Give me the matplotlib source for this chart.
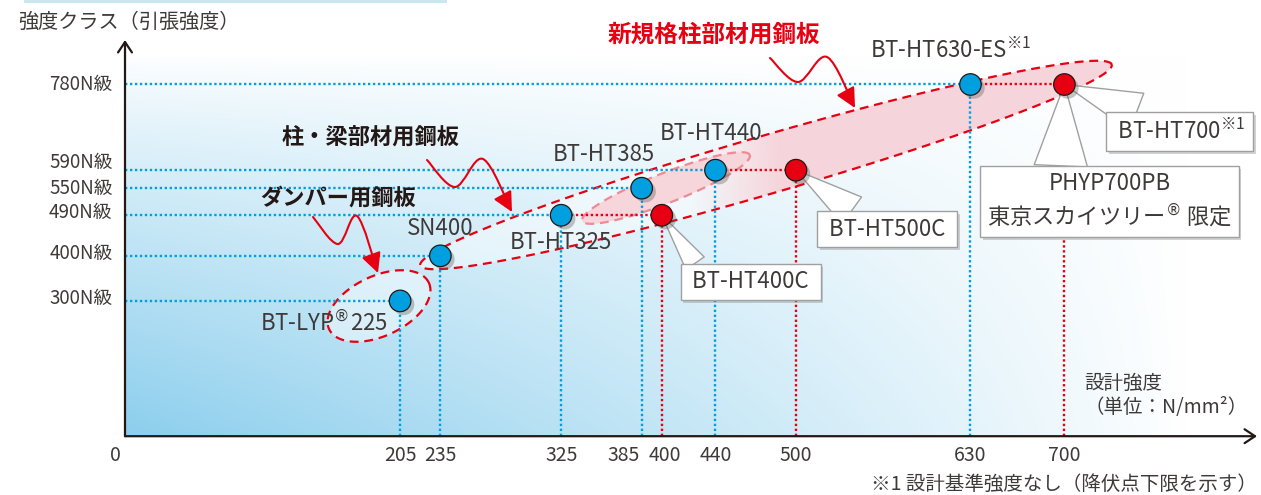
import numpy as np
import matplotlib
matplotlib.use("Agg")
import matplotlib.pyplot as plt
import matplotlib.patheffects as pe
from matplotlib.patches import Polygon, FancyArrowPatch
from matplotlib.path import Path

plt.rcParams['font.family'] = ['Noto Sans CJK JP', 'DejaVu Sans']
plt.rcParams['mathtext.fontset'] = 'custom'
plt.rcParams['mathtext.rm'] = 'Noto Sans CJK JP'
plt.rcParams['mathtext.it'] = 'Noto Sans CJK JP'
plt.rcParams['mathtext.bf'] = 'Noto Sans CJK JP:bold'
plt.rcParams['mathtext.sf'] = 'DejaVu Sans'

# ── data ───────────────────────────────────────────────────────────────────────
blue_names  = ['BT-LYP$^{\\mathsf{®}}$225', 'SN400', 'BT-HT325', 'BT-HT385',
               'BT-HT440', 'BT-HT630-ES$^{\\mathrm{※1}}$']
blue_design = [205, 235, 325, 385, 440, 630]
blue_class  = [300, 400, 490, 550, 590, 780]

red_names   = [' BT-HT400C ', ' BT-HT500C ', ' BT-HT700$^{\\mathrm{※1}}$ ']
red_design  = [400, 500, 700]
red_class   = [490, 590, 780]

x_ticks = [0, 205, 235, 325, 385, 400, 440, 500, 630, 700]
y_ticks = [300, 400, 490, 550, 590, 780]
y_tick_labels = [f'{v}N級' for v in y_ticks]

# ── style ──────────────────────────────────────────────────────────────────────
BLUE = '#00a0e0'
RED = '#e60012'
TXT = '#3e3a39'
AXC = '#231815'
PINK = (0.965, 0.835, 0.86)

# pixel <-> data mapping of the original layout
X0, SX = 125.0, 1.342
Y0, SY = 436.2, 0.4509


def D(px, py):
    return (px - X0) / SX, (Y0 - py) / SY


fig = plt.figure(figsize=(12.61, 4.95), dpi=100)
ax = fig.add_axes([0, 0, 1, 1])
ax.set_xlim(D(0, 0)[0], D(1261, 0)[0])
ax.set_ylim(D(0, 495)[1], D(0, 0)[1])
ax.axis('off')

fig.add_artist(plt.Line2D([25 / 1261, 445 / 1261], [1 - 1.2 / 495] * 2,
                          transform=fig.transFigure, color='#c4e6ec', lw=2))

# ── background gradient ───────────────────────────────────────────────────────
xr, yt = D(1261, 0)[0], D(0, 0)[1]
gx = np.linspace(X0, 1261, 400)
gy = np.linspace(Y0, 0, 200)
PX, PY = np.meshgrid(gx, gy)
sy = np.clip((PY - 55) / (Y0 - 55), 0, 1) ** 0.85
sx = np.clip(1 - (PX - X0) / 1060, 0, 1) ** 0.9
t = (sy * sx)[..., None]
C = np.array([0.55, 0.81, 0.93])
img = 1 - t * (1 - C)
ax.imshow(img, extent=[0, xr, 0, yt], origin='lower', aspect='auto',
          interpolation='bilinear', zorder=0)


# ── ellipses ─────────────────────────────────────────────────────────────────
def ellipse_pts(cx, cy, a, b, ang):
    tt = np.linspace(0, 2 * np.pi, 300)
    th = np.deg2rad(ang)
    ex = cx + a * np.cos(tt) * np.cos(th) - b * np.sin(tt) * np.sin(th)
    ey = cy - (a * np.cos(tt) * np.sin(th) + b * np.sin(tt) * np.cos(th))
    return np.column_stack(D(ex, ey))


dash = dict(ls=(0, (4, 2.6)), lw=1.6)

# damper group
lyp = Polygon(ellipse_pts(379, 306, 55, 30, 25), closed=True, fc=(1, 1, 1, 0.45),
              ec=RED, zorder=1.5, **dash)
ax.add_patch(lyp)

# column / beam group + new standard group
big_pts = ellipse_pts(766, 165, 360, 29, 16.2)
big_fill = Polygon(big_pts, closed=True, fc=(1, 1, 1, 0.45), ec='none', zorder=1.2)
ax.add_patch(big_fill)
bx0, by0 = D(640, 0)[0], D(0, 240)[1]
bx1, by1 = D(1130, 0)[0], D(0, 50)[1]
ramp = np.clip((np.linspace(640, 1130, 400) - 690) / 90, 0, 1)
pimg = np.zeros((2, 400, 4))
pimg[..., :3] = PINK
pimg[..., 3] = ramp
im = ax.imshow(pimg, extent=[bx0, bx1, by0, by1], aspect='auto', zorder=1.3,
               interpolation='bilinear')
im.set_clip_path(big_fill)
inner = Polygon(ellipse_pts(666, 188, 90, 15, 21.5), closed=True, fc=PINK,
                ec='#ee8a94', zorder=1.35, **dash)
ax.add_patch(inner)
ax.add_patch(Polygon(big_pts, closed=True, fc='none', ec=RED, zorder=1.6, **dash))

# ── dotted guide lines ─────────────────────────────────────────────────────────
dot = dict(ls=(0, (1, 1.1)), lw=1.7, zorder=2)
for x, y in zip(blue_design, blue_class):
    ax.plot([0, x], [y, y], color=BLUE, **dot)
    ax.plot([x, x], [0, y], color=BLUE, **dot)
for x, y in zip(red_design, red_class):
    x0 = max(bx for bx, by in zip(blue_design, blue_class) if by == y)
    ax.plot([x0, x], [y, y], color=RED, **dot)
    ax.plot([x, x], [0, y], color=RED, **dot)

# ── axes with arrows ───────────────────────────────────────────────────────────
arr = dict(arrowstyle='->,head_length=0.75,head_width=0.5', color=AXC, lw=1.6,
           shrinkA=0, shrinkB=0)
ax.annotate('', xy=(0, D(0, 40)[1]), xytext=(0, 0), arrowprops=arr, zorder=3)
ax.annotate('', xy=(D(1257, 0)[0], 0), xytext=(0, 0), arrowprops=arr, zorder=3)

x_nudge = {0: -7, 385: -13, 400: 2}
for v in x_ticks:
    ax.annotate(str(v), (v, 0), xytext=(x_nudge.get(v, 0), -14), textcoords='offset points',
                ha='center', va='center', fontsize=14, color=TXT)
y_nudge = {300: 2, 400: 2, 490: 2, 550: 0, 590: 5.5, 780: 0}
for v, lab in zip(y_ticks, y_tick_labels):
    ax.annotate(lab, (0, v), xytext=(-9, y_nudge[v]), textcoords='offset points',
                ha='right', va='center', fontsize=13.5, color=TXT)

ax.text(*D(18, 22), '強度クラス（引張強度）', ha='left', va='center', fontsize=14.5, color=TXT)
ax.text(*D(1084, 383), '設計強度', ha='left', va='center', fontsize=14, color=TXT)
ax.text(*D(1084, 408), '（単位：N/mm²）', ha='left', va='center', fontsize=14, color=TXT)
ax.text(*D(1257, 484), '※1 設計基準強度なし（降伏点下限を示す）', ha='right', va='center',
        fontsize=14, color=TXT)

# ── points ─────────────────────────────────────────────────────────────────
shadow = [pe.SimplePatchShadow(offset=(2.5, -2.5), shadow_rgbFace='0.35', alpha=0.35),
          pe.Normal()]
ax.plot(blue_design, blue_class, 'o', ms=15.5, mfc=BLUE, mec=AXC, mew=0.9, zorder=6,
        path_effects=shadow)
ax.plot(red_design, red_class, 'o', ms=15.5, mfc=RED, mec=AXC, mew=0.9, zorder=6,
        path_effects=shadow)

# blue labels
label_off = [(-55, -15), (0, 19.5), (0, -19.5), (-27, 24.5), (-3, 26.5), (-14, 24.5)]
for name, x, y, off in zip(blue_names, blue_design, blue_class, label_off):
    ax.annotate(name, (x, y), xytext=off, textcoords='offset points', ha='center',
                va='center', fontsize=16, color=TXT, zorder=7)


# callouts for red points
def callout(text, xy, off, relpos, tail, pad=0.3, ls=1.2):
    ann = ax.annotate(text, xy=xy, xytext=off, textcoords='offset points',
                      ha='center', va='center', fontsize=16, color=TXT, zorder=4,
                      linespacing=ls,
                      bbox=dict(boxstyle=f'square,pad={pad}', fc='white', ec='#a0a0a0', lw=1),
                      arrowprops=dict(arrowstyle=f'wedge,tail_width={tail},shrink_factor=0.5',
                                      fc='white', ec='#a0a0a0', lw=1, relpos=relpos,
                                      shrinkA=0, shrinkB=0))
    ann.get_bbox_patch().set_path_effects(
        [pe.SimplePatchShadow(offset=(2, -2), shadow_rgbFace='0.5', alpha=0.35), pe.Normal()])
    return ann


call_off = [(64, -48), (65.5, -42.5), (83, -34)]
call_rel = [(0.1, 1), (0.3, 1), (0.32, 1)]
call_tail = [1.0, 1.5, 1.8]
for name, x, y, off, rp, tw in zip(red_names, red_design, red_class, call_off, call_rel, call_tail):
    callout(name, (x, y), off, rp, tw)
callout('PHYP700PB\n東京スカイツリー$^{\\mathsf{®}}$ 限定', (red_design[2], red_class[2]),
        (32.5, -84), (0.3, 1), 2.4, pad=0.3, ls=1.3)


# ── wavy red arrows + group titles ─────────────────────────────────────────────
def wave_arrow(pts_px):
    P = np.array([D(*p) for p in pts_px])
    Q = np.vstack([P[0], P, P[-1]])
    verts, codes = [P[0]], [Path.MOVETO]
    for i in range(1, len(Q) - 2):
        c1 = Q[i] + (Q[i + 1] - Q[i - 1]) / 6
        c2 = Q[i + 1] - (Q[i + 2] - Q[i]) / 6
        verts += [c1, c2, Q[i + 1]]
        codes += [Path.CURVE4] * 3
    ax.add_patch(FancyArrowPatch(path=Path(verts, codes),
                                 arrowstyle='-|>,head_length=0.6,head_width=0.3',
                                 mutation_scale=20, color=RED, lw=1.5, zorder=5))


wave_arrow([(770, 58), (798, 82), (827, 57), (855, 108)])
wave_arrow([(427, 160), (455, 187), (483, 159), (512, 212)])
wave_arrow([(313, 217), (338, 244), (357, 216), (378, 273)])

ax.text(*D(714, 35), '新規格柱部材用鋼板', ha='center', va='center', fontsize=17,
        fontweight='bold', color=RED)
ax.text(*D(371, 138), '柱・梁部材用鋼板', ha='center', va='center', fontsize=16,
        fontweight='bold', color='#231815')
ax.text(*D(338, 198), 'ダンパー用鋼板', ha='center', va='center', fontsize=16,
        fontweight='bold', color='#231815')

fig.savefig('out.png', dpi=100)
